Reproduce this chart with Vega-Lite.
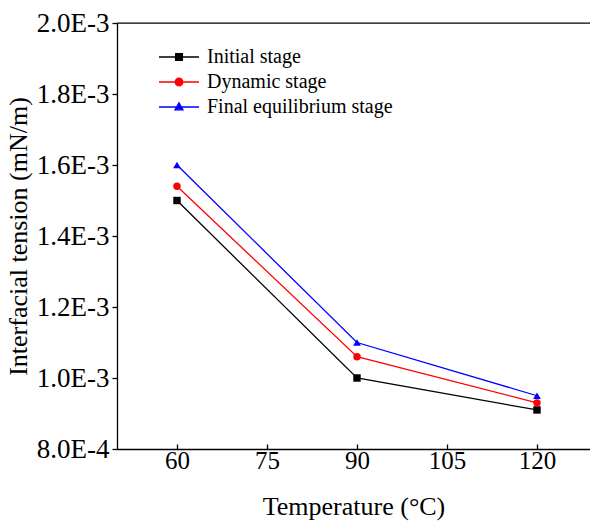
{
  "$schema": "https://vega.github.io/schema/vega-lite/v6.json",
  "width": 473,
  "height": 426,
  "autosize": {"type": "none"},
  "padding": {"left": 117, "top": 23, "right": 0, "bottom": 75},
  "background": "white",
  "config": {
    "font": "Liberation Serif",
    "view": {"stroke": "black", "strokeWidth": 1.3, "strokeDash": [473, 2000]},
    "axis": {
      "domainColor": "black", "domainWidth": 1.3,
      "tickColor": "black", "tickWidth": 1.3,
      "labelColor": "black", "titleColor": "black",
      "labelFont": "Liberation Serif", "titleFont": "Liberation Serif",
      "labelFontSize": 25, "titleFontSize": 26, "titleFontWeight": "normal",
      "grid": false
    }
  },
  "data": {
    "values": [
      {"T": 60, "IFT": 0.0015, "Stage": "Initial stage"},
      {"T": 90, "IFT": 0.001, "Stage": "Initial stage"},
      {"T": 120, "IFT": 0.00091, "Stage": "Initial stage"},
      {"T": 60, "IFT": 0.00154, "Stage": "Dynamic stage"},
      {"T": 90, "IFT": 0.00106, "Stage": "Dynamic stage"},
      {"T": 120, "IFT": 0.00093, "Stage": "Dynamic stage"},
      {"T": 60, "IFT": 0.0016, "Stage": "Final equilibrium stage"},
      {"T": 90, "IFT": 0.0011, "Stage": "Final equilibrium stage"},
      {"T": 120, "IFT": 0.00095, "Stage": "Final equilibrium stage"}
    ]
  },
  "encoding": {
    "x": {
      "field": "T", "type": "quantitative",
      "scale": {"domain": [50, 128.8333], "nice": false, "zero": false},
      "axis": {"values": [60, 75, 90, 105, 120], "tickSize": -5, "labelPadding": 4, "title": "Temperature (°C)", "titlePadding": 20}
    },
    "y": {
      "field": "IFT", "type": "quantitative",
      "scale": {"domain": [0.0008, 0.002], "nice": false, "zero": false},
      "axis": {
        "values": [0.0008, 0.001, 0.0012, 0.0014, 0.0016, 0.0018, 0.002],
        "labelExpr": "replace(format(datum.value, '.1e'), 'e', 'E')",
        "labelFontSize": 27,
        "tickSize": 5, "labelPadding": 3,
        "title": "Interfacial tension (mN/m)", "titlePadding": 5
      }
    },
    "color": {
      "field": "Stage", "type": "nominal",
      "scale": {"domain": ["Initial stage", "Dynamic stage", "Final equilibrium stage"], "range": ["#000000", "#ff0000", "#0000ff"]},
      "legend": {
        "title": null, "orient": "none", "legendX": 51, "legendY": 23,
        "labelFont": "Liberation Serif", "labelFontSize": 20, "labelColor": "black", "labelLimit": 400,
        "symbolSize": 400, "rowPadding": 4, "labelOffset": 17,
        "encode": {
          "symbols": {
            "update": {
              "shape": {"signal": "datum.value === 'Initial stage' ? 'M-2,0H2M-0.34,-0.34H0.34V0.34H-0.34Z' : datum.value === 'Dynamic stage' ? 'M-2,0H2M-0.38,0A0.38,0.38,0,1,0,0.38,0A0.38,0.38,0,1,0,-0.38,0Z' : 'M-2,0H2M0,-0.42L0.4,0.28H-0.4Z'"},
              "fill": {"scale": "color", "field": "value"},
              "stroke": {"scale": "color", "field": "value"},
              "strokeWidth": {"value": 1.3},
              "opacity": {"value": 1}
            }
          }
        }
      }
    }
  },
  "layer": [
    {"mark": {"type": "line", "strokeWidth": 1.3}},
    {
      "transform": [{"filter": "datum.Stage === 'Initial stage'"}],
      "mark": {"type": "point", "filled": true, "opacity": 1, "size": 55, "shape": "square"}
    },
    {
      "transform": [{"filter": "datum.Stage === 'Dynamic stage'"}],
      "mark": {"type": "point", "filled": true, "opacity": 1, "size": 55, "shape": "circle"}
    },
    {
      "transform": [{"filter": "datum.Stage === 'Final equilibrium stage'"}],
      "mark": {"type": "point", "filled": true, "opacity": 1, "size": 60, "shape": "triangle-up"}
    }
  ]
}
